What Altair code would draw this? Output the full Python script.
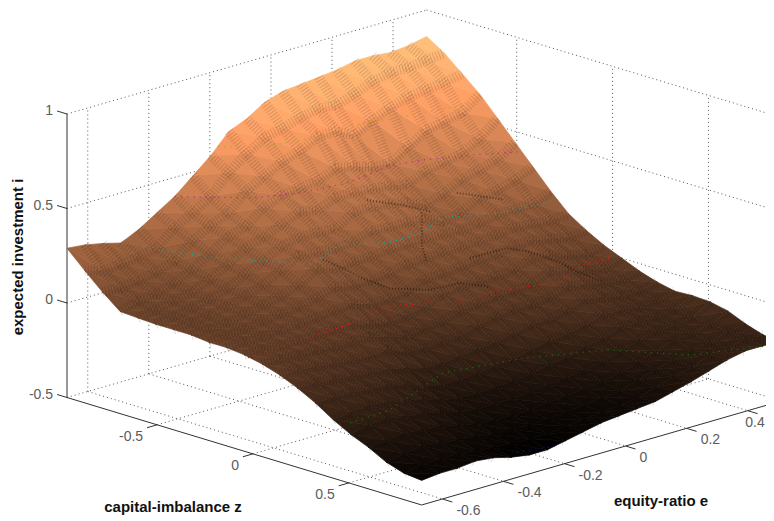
import altair as alt
import pandas as pd

alt.data_transformers.disable_max_rows()

# expected investment i over the surface: one list per equity-ratio step,
# each running along capital-imbalance from its lowest to its highest value
i_e00 = [.29,.20,.115,.04,.035,.03,.03,.03,.02,.02,.01,-.01,-.04,-.08,-.13,-.19,-.24,-.28,-.33,-.36,-.37]
i_e01 = [.28,.17,.11,.07,.05,.045,.04,.035,.03,.025,.01,-.01,-.04,-.08,-.13,-.18,-.22,-.27,-.31,-.34,-.36]
i_e02 = [.26,.18,.12,.08,.07,.06,.05,.04,.035,.025,.005,-.02,-.05,-.09,-.13,-.17,-.21,-.26,-.30,-.34,-.36]
i_e03 = [.235,.19,.14,.11,.09,.08,.07,.06,.05,.03,.005,-.02,-.06,-.10,-.14,-.18,-.23,-.27,-.31,-.34,-.35]
i_e04 = [.28,.21,.17,.15,.13,.11,.10,.08,.06,.035,.005,-.03,-.07,-.11,-.15,-.20,-.24,-.28,-.32,-.35,-.36]
i_e05 = [.34,.29,.25,.21,.18,.16,.13,.10,.07,.04,.005,-.03,-.08,-.12,-.17,-.22,-.26,-.30,-.33,-.36,-.385]
i_e06 = [.40,.34,.30,.27,.24,.20,.18,.13,.09,.05,.005,-.03,-.07,-.14,-.21,-.25,-.29,-.32,-.35,-.37,-.40]
i_e07 = [.48,.40,.34,.30,.27,.25,.23,.19,.12,.06,-.02,-.06,-.11,-.17,-.23,-.27,-.30,-.33,-.35,-.37,-.40]
i_e08 = [.56,.50,.43,.37,.31,.27,.22,.16,.10,.03,-.04,-.08,-.12,-.17,-.23,-.27,-.30,-.33,-.35,-.37,-.38]
i_e09 = [.66,.57,.48,.41,.35,.27,.21,.17,.10,.03,-.03,-.07,-.11,-.16,-.22,-.27,-.30,-.33,-.35,-.36,-.36]
i_e10 = [.70,.63,.53,.42,.33,.26,.22,.17,.11,.04,-.01,-.06,-.11,-.15,-.21,-.26,-.29,-.32,-.34,-.35,-.34]
i_e11 = [.76,.65,.56,.43,.37,.32,.25,.18,.13,.08,.03,-.03,-.08,-.14,-.20,-.25,-.28,-.31,-.33,-.34,-.33]
i_e12 = [.79,.68,.61,.47,.37,.32,.24,.18,.13,.08,.04,-.02,-.06,-.12,-.18,-.23,-.27,-.30,-.32,-.33,-.32]
i_e13 = [.80,.70,.61,.45,.36,.31,.24,.18,.14,.09,.04,-.01,-.05,-.10,-.16,-.22,-.26,-.29,-.31,-.32,-.31]
i_e14 = [.81,.69,.56,.42,.35,.29,.23,.18,.14,.10,.04,-.01,-.05,-.10,-.15,-.19,-.24,-.27,-.28,-.29,-.285]
i_e15 = [.82,.72,.61,.41,.33,.25,.19,.17,.14,.10,.05,.00,-.04,-.08,-.13,-.17,-.21,-.24,-.25,-.26,-.26]
i_e16 = [.84,.76,.65,.47,.37,.28,.21,.18,.15,.12,.08,.04,-.01,-.05,-.10,-.14,-.18,-.21,-.23,-.24,-.23]
i_e17 = [.84,.78,.68,.53,.39,.33,.26,.20,.16,.12,.07,.02,-.03,-.07,-.11,-.14,-.16,-.18,-.20,-.20,-.20]
i_e18 = [.83,.78,.69,.55,.41,.35,.27,.20,.15,.10,.04,-.01,-.05,-.09,-.12,-.14,-.16,-.17,-.19,-.19,-.18]
i_e19 = [.84,.79,.70,.57,.46,.38,.30,.20,.14,.08,.02,-.03,-.06,-.09,-.11,-.13,-.14,-.15,-.16,-.17,-.18]
i_e20 = [.86,.80,.72,.64,.54,.44,.34,.24,.15,.09,.04,.00,-.04,-.07,-.09,-.085,-.09,-.11,-.15,-.18,-.19]
surface = [i_e00,i_e01,i_e02,i_e03,i_e04,i_e05,i_e06,i_e07,i_e08,i_e09,i_e10,
           i_e11,i_e12,i_e13,i_e14,i_e15,i_e16,i_e17,i_e18,i_e19,i_e20]

# level curves drawn on the surface, read as (e, z)
level_06 = [(-.173,-.97),(-.153,-.903),(-.077,-.837),(.044,-.792),(.168,-.809),(.323,-.748),(.422,-.718),(.491,-.698)]
level_04 = [(-.315,-.97),(-.193,-.755),(-.087,-.681),(.047,-.648),(.213,-.689),(.302,-.657),(.413,-.574),(.51,-.482)]
level_02 = [(-.444,-.931),(-.382,-.681),(-.335,-.557),(-.269,-.389),(-.25,-.358),(-.097,-.456),(-.002,-.347),(.108,-.35),(.225,-.432),(.353,-.322),(.51,-.298)]
level_00 = [(-.668,-.027),(-.51,-.043),(-.32,-.064),(-.144,-.121),(.019,.022),(.13,.018),(.264,.101),(.425,.001),(.491,.016)]
level_m2 = [(-.648,.475),(-.509,.462),(-.216,.271),(0,.344),(.186,.486),(.298,.741),(.51,.88)]
level_m4 = [(-.32,.823),(-.224,.867)]
levels = [(.6,"#b0a818",level_06),(.4,"#c8208c",level_04),(.2,"#10a8a0",level_02),
          (0,"#e01818",level_00),(-.2,"#107010",level_m2),(-.4,"#1010a0",level_m4)]

# dark creases on the surface, read as (e, z, i)
crease_a = [(-.208,-.367,.2),(-.189,-.30,.17),(-.169,-.237,.13),(-.13,-.143,.08),(-.061,-.045,.07),(.018,-.012,.08),(.056,.083,.07)]
crease_b = [(.099,-.09,.15),(.216,-.084,.15),(.254,-.025,.13),(.278,.079,.1),(.285,.188,.07),(.305,.275,.04)]
crease_c = [(.07,-.58,.32),(.12,-.487,.3),(.165,-.402,.27)]
crease_d = [(.281,-.448,.3),(.353,-.322,.27)]
crease_e = [(.145,-.415,.27),(.085,-.317,.15),(.054,-.243,.1)]
creases = [crease_a, crease_b, crease_c, crease_d, crease_e]

z_ticks = [-.5, 0, .5]
e_ticks = [-.6, -.4, -.2, 0, .2, .4]
i_ticks = [-.5, 0, .5, 1]
z_tick_labels = ["-0.5", "0", "0.5"]
e_tick_labels = ["-0.6", "-0.4", "-0.2", "0", "0.2", "0.4"]
i_tick_labels = ["-0.5", "0", "0.5", "1"]
x_title, y_title, i_title = "capital-imbalance z", "equity-ratio e", "expected investment i"

# view of the box
Z0, Z1, E0, E1 = -.97, .88, -.668, .51
N = 20
def px(z, e, i):
    return 67 + (z - Z0) * 191.7 + (e - E0) * 305.3
def py(z, e, i):
    return 397.5 + (z - Z0) * 58.1 - (e - E0) * 88.3 - (i + .5) * 189
def zv(m): return Z0 + (Z1 - Z0) * m / N
def ev(k): return E0 + (E1 - E0) * k / N

def copper(i):
    t = max(0, min(1, (i + .40) / 1.29))
    r, g, b = min(1, 1.25 * t), .7812 * t, .4975 * t
    return "#%02x%02x%02x" % tuple(int(255 * c) for c in (r, g, b))

# triangles, far ones first
tris = []
for m in range(N):
    for k in range(N):
        for tri in ([(m,k),(m+1,k),(m+1,k+1)], [(m,k),(m,k+1),(m+1,k+1)]):
            pts = [[px(zv(a), ev(b), surface[b][a]), py(zv(a), ev(b), surface[b][a])] for a, b in tri]
            mean = sum(surface[b][a] for a, b in tri) / 3
            tris.append((m - k, {"type": "Feature", "properties": {"c": copper(mean)},
                                 "geometry": {"type": "Polygon", "coordinates": [pts + [pts[0]]]}}))
tris.sort(key=lambda t: t[0])
features = [t[1] for t in tris]

XS = alt.X("x:Q", scale=alt.Scale(domain=[8, 766]), axis=None)
YS = alt.Y("y:Q", scale=alt.Scale(domain=[520, 8]), axis=None)

def segs(lst):
    rows = []
    for n, (a, b) in enumerate(lst):
        rows.append({"id": n, "o": 0, "x": px(*a), "y": py(*a)})
        rows.append({"id": n, "o": 1, "x": px(*b), "y": py(*b)})
    return pd.DataFrame(rows)

def lines(df, **kw):
    return alt.Chart(df).mark_line(**kw).encode(x=XS, y=YS, detail="id:N", order="o:Q")

grid = []
for e in e_ticks:
    grid.append(((Z0, e, -.5), (Z0, e, 1)))
    grid.append(((Z0, e, -.5), (Z1, e, -.5)))
for z in z_ticks:
    grid.append(((z, E1, -.5), (z, E1, 1)))
    grid.append(((z, E0, -.5), (z, E1, -.5)))
for i in i_ticks[1:]:
    grid.append(((Z0, E0, i), (Z0, E1, i)))
    grid.append(((Z0, E1, i), (Z1, E1, i)))
grid.append(((Z0, E0, -.5), (Z0, E1, -.5)))
grid.append(((Z0, E1, -.5), (Z1, E1, -.5)))
grid_layer = lines(segs(grid), color="#555555", strokeWidth=1, strokeDash=[1, 3])

axes = [((Z0, E0, -.5), (Z0, E0, 1)), ((Z0, E0, -.5), (Z1, E0, -.5)), ((Z1, E0, -.5), (Z1, E1, -.5))]
TZ, TE = (Z1 - Z0) * .028, (E1 - E0) * .028
for z in z_ticks:
    axes.append(((z, E0, -.5), (z, E0 - TE, -.5)))
for e in e_ticks:
    axes.append(((Z1, e, -.5), (Z1 + TZ, e, -.5)))
for i in i_ticks:
    axes.append(((Z0, E0, i), (Z0 - TZ, E0, i)))
axis_layer = lines(segs(axes), color="#333333", strokeWidth=1)

surface_layer = alt.Chart(alt.InlineData(values=features)).mark_geoshape(strokeWidth=.7).encode(
    color=alt.Color("properties.c:N", scale=None),
    stroke=alt.Stroke("properties.c:N", scale=None),
).project(type="identity", scale=1, translate=[-8, -8])

# stipple of the mesh: stroked along the interior lines of the grid
mesh = []
for m in range(1, N):
    for k in range(N + 1):
        mesh.append({"id": "m%d" % m, "o": k, "x": px(zv(m), ev(k), surface[k][m]), "y": py(zv(m), ev(k), surface[k][m])})
for k in range(1, N):
    for m in range(N + 1):
        mesh.append({"id": "k%d" % k, "o": m, "x": px(zv(m), ev(k), surface[k][m]), "y": py(zv(m), ev(k), surface[k][m])})
mesh_df = pd.DataFrame(mesh)
hatch_a = lines(mesh_df[mesh_df.id.str.startswith("m")], color="black", strokeWidth=10, strokeDash=[1, 2], opacity=.14)
hatch_b = lines(mesh_df[mesh_df.id.str.startswith("k")], color="black", strokeWidth=10, strokeDash=[1, 2], opacity=.14)

crease_rows = [{"id": n, "o": j, "x": px(z, e, i), "y": py(z, e, i)}
               for n, path in enumerate(creases) for j, (e, z, i) in enumerate(path)]
crease_layer = lines(pd.DataFrame(crease_rows), color="black", strokeWidth=2, strokeDash=[1, 2], opacity=.45)

level_layers = []
for lev, col, path in levels:
    df = pd.DataFrame([{"id": lev, "o": n, "x": px(z, e, lev), "y": py(z, e, lev)} for n, (e, z) in enumerate(path)])
    level_layers.append(lines(df, color=col, strokeWidth=1.2, strokeDash=[1.2, 5]))

def labels(rows, **kw):
    return alt.Chart(pd.DataFrame(rows)).mark_text(font="Liberation Sans", fontSize=14, color="#5c5c5c", **kw).encode(x=XS, y=YS, text="t:N")

zl = labels([{"x": px(z, E0, -.5), "y": py(z, E0, -.5), "t": t} for z, t in zip(z_ticks, z_tick_labels)], align="right", dx=-14, dy=12)
el = labels([{"x": px(Z1, e, -.5), "y": py(Z1, e, -.5), "t": t} for e, t in zip(e_ticks[:-1], e_tick_labels[:-1])], align="left", dx=14, dy=12)
# the last label would run off the edge, so it ends at its tick's right
el_last = labels([{"x": px(Z1, e_ticks[-1], -.5), "y": py(Z1, e_ticks[-1], -.5), "t": e_tick_labels[-1]}], align="right", dx=17, dy=12)
il = labels([{"x": px(Z0, E0, i), "y": py(Z0, E0, i), "t": t} for i, t in zip(i_ticks, i_tick_labels)], align="right", dx=-14, dy=-3)

def title(t, x, y, angle=0):
    return alt.Chart(pd.DataFrame([{"x": x, "y": y, "t": t}])).mark_text(
        font="Liberation Sans", fontSize=15, fontWeight="bold", color="#111111", angle=angle
    ).encode(x=XS, y=YS, text="t:N")

chart = alt.layer(
    grid_layer, axis_layer, surface_layer, hatch_a, hatch_b, crease_layer, *level_layers, zl, el, el_last, il,
    title(x_title, 173, 507), title(y_title, 661, 501), title(i_title, 18, 257, 270),
).properties(width=758, height=512, padding=0, autosize="none").configure_view(stroke=None)

chart.save("out.html", embed_options={"renderer": "svg", "actions": False})
